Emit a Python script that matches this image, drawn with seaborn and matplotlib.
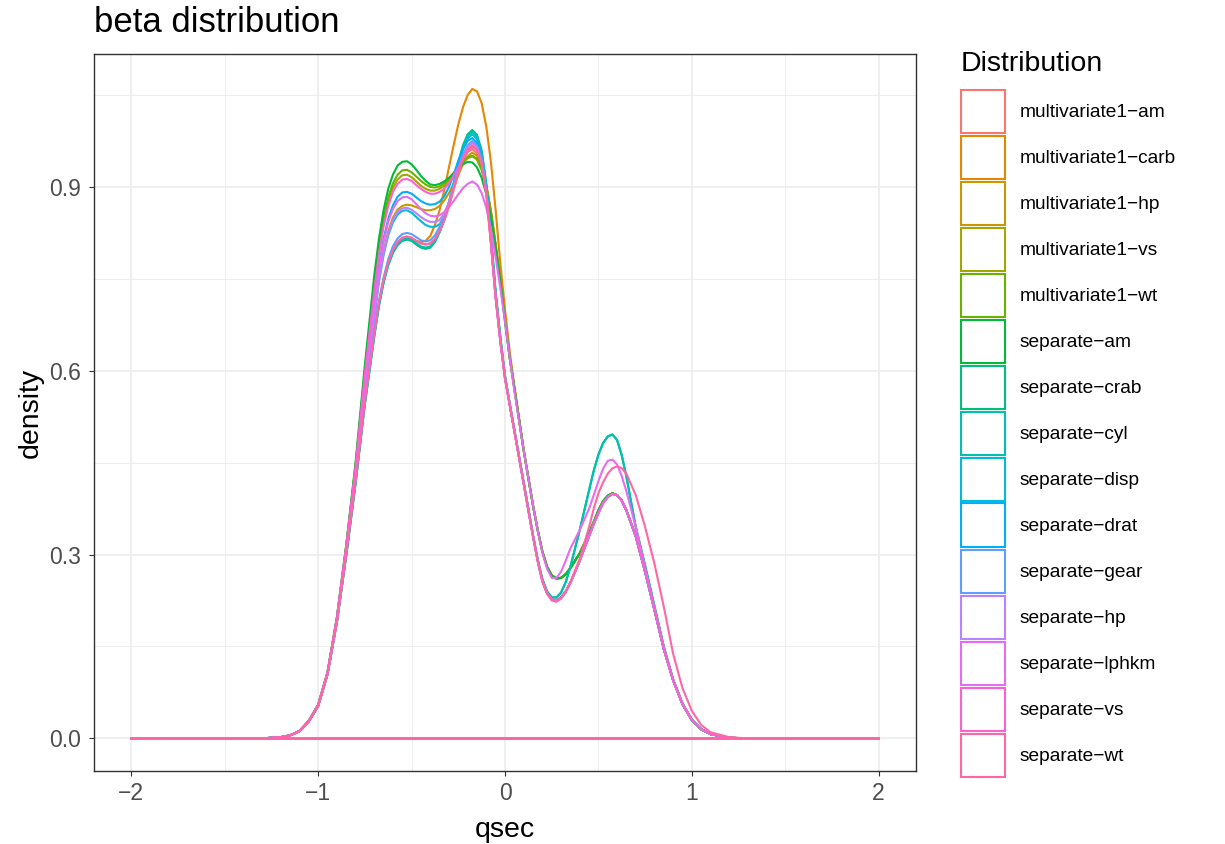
import numpy as np
import pandas as pd
import matplotlib
matplotlib.use("Agg")
import matplotlib.pyplot as plt
from matplotlib.patches import Patch
import seaborn as sns

plt.rcParams['font.family'] = ['Liberation Sans', 'DejaVu Sans']

# ---- data (density value at each qsec position) ----
x_grid = [-2.0, -1.3, -1.2, -1.15, -1.1, -1.05, -1.0, -0.95, -0.9, -0.85, -0.8, -0.75, -0.7,
          -0.675, -0.65, -0.625, -0.6, -0.575, -0.55, -0.525, -0.5, -0.475, -0.45, -0.425, -0.4, -0.375, -0.35,
          -0.325, -0.3, -0.275, -0.25, -0.225, -0.2, -0.175, -0.15, -0.125, -0.1, -0.075, -0.05, -0.025, 0.0,
          0.025, 0.05, 0.1, 0.15, 0.175, 0.2, 0.225, 0.25, 0.275, 0.3, 0.325, 0.35,
          0.4, 0.45, 0.475, 0.5, 0.525, 0.55, 0.575, 0.6, 0.625, 0.65, 0.7,
          0.75, 0.8, 0.85, 0.9, 0.95, 1.0, 1.05, 1.1, 1.2, 1.3, 2.0]

names = ["multivariate1\u2212am", "multivariate1\u2212carb", "multivariate1\u2212hp",
         "multivariate1\u2212vs", "multivariate1\u2212wt", "separate\u2212am", "separate\u2212crab",
         "separate\u2212cyl", "separate\u2212disp", "separate\u2212drat", "separate\u2212gear",
         "separate\u2212hp", "separate\u2212lphkm", "separate\u2212vs", "separate\u2212wt"]

colors = ["#F8766D", "#E58700", "#C99800", "#A3A500", "#6BB100", "#00BA38", "#00BF7D",
          "#00C0AF", "#00BCD8", "#00B0F6", "#619CFF", "#B983FF", "#E76BF3", "#FD61D1", "#FF67A4"]

mv1_am = [0, 0, 0.002, 0.005, 0.012, 0.028, 0.053, 0.105, 0.19, 0.30, 0.42, 0.55, 0.66,
          0.71, 0.748, 0.777, 0.797, 0.81, 0.817, 0.819, 0.817, 0.812, 0.808, 0.806, 0.808, 0.815, 0.828,
          0.845, 0.868, 0.895, 0.92, 0.942, 0.957, 0.962, 0.955, 0.935, 0.903, 0.86, 0.805, 0.748, 0.685,
          0.622, 0.572, 0.47, 0.38, 0.34, 0.305, 0.28, 0.266, 0.261, 0.262, 0.268, 0.278,
          0.302, 0.335, 0.353, 0.372, 0.387, 0.396, 0.40, 0.397, 0.388, 0.372, 0.33,
          0.272, 0.21, 0.146, 0.095, 0.056, 0.03, 0.015, 0.007, 0.001, 0, 0]
mv1_carb = [0, 0, 0.002, 0.005, 0.012, 0.028, 0.053, 0.105, 0.19, 0.30, 0.42, 0.55, 0.66,
            0.71, 0.748, 0.776, 0.795, 0.807, 0.814, 0.816, 0.815, 0.812, 0.81, 0.812, 0.82, 0.838, 0.862,
            0.895, 0.932, 0.968, 1.002, 1.03, 1.05, 1.06, 1.056, 1.037, 0.998, 0.94, 0.862, 0.775, 0.70,
            0.632, 0.575, 0.472, 0.38, 0.34, 0.305, 0.28, 0.266, 0.261, 0.262, 0.268, 0.278,
            0.302, 0.335, 0.353, 0.372, 0.387, 0.396, 0.40, 0.397, 0.388, 0.372, 0.33,
            0.272, 0.21, 0.146, 0.095, 0.056, 0.03, 0.015, 0.007, 0.001, 0, 0]
mv1_hp = [0, 0, 0.002, 0.005, 0.012, 0.028, 0.054, 0.106, 0.193, 0.307, 0.432, 0.572, 0.69,
          0.75, 0.795, 0.828, 0.85, 0.863, 0.869, 0.871, 0.87, 0.867, 0.864, 0.862, 0.862, 0.864, 0.869,
          0.878, 0.89, 0.905, 0.92, 0.937, 0.95, 0.956, 0.951, 0.932, 0.902, 0.86, 0.805, 0.748, 0.685,
          0.622, 0.572, 0.47, 0.38, 0.34, 0.305, 0.28, 0.266, 0.261, 0.262, 0.268, 0.278,
          0.302, 0.335, 0.353, 0.372, 0.387, 0.396, 0.40, 0.397, 0.388, 0.372, 0.33,
          0.272, 0.21, 0.146, 0.095, 0.056, 0.03, 0.015, 0.007, 0.001, 0, 0]
mv1_vs = [0, 0, 0.002, 0.005, 0.012, 0.029, 0.055, 0.108, 0.196, 0.313, 0.443, 0.597, 0.735,
          0.795, 0.842, 0.876, 0.899, 0.912, 0.919, 0.92, 0.916, 0.909, 0.902, 0.897, 0.894, 0.894, 0.897,
          0.902, 0.91, 0.92, 0.93, 0.94, 0.947, 0.95, 0.945, 0.928, 0.90, 0.858, 0.804, 0.748, 0.685,
          0.622, 0.572, 0.47, 0.38, 0.34, 0.305, 0.28, 0.266, 0.261, 0.262, 0.268, 0.278,
          0.302, 0.335, 0.353, 0.372, 0.387, 0.396, 0.40, 0.397, 0.388, 0.372, 0.33,
          0.272, 0.21, 0.146, 0.095, 0.056, 0.03, 0.015, 0.007, 0.001, 0, 0]
mv1_wt = [0, 0, 0.002, 0.005, 0.012, 0.029, 0.055, 0.108, 0.197, 0.315, 0.446, 0.60, 0.74,
          0.80, 0.848, 0.883, 0.906, 0.92, 0.927, 0.928, 0.924, 0.917, 0.91, 0.904, 0.90, 0.899, 0.901,
          0.906, 0.914, 0.923, 0.933, 0.942, 0.948, 0.951, 0.946, 0.929, 0.90, 0.858, 0.804, 0.748, 0.685,
          0.622, 0.572, 0.47, 0.38, 0.34, 0.305, 0.28, 0.266, 0.261, 0.262, 0.268, 0.278,
          0.302, 0.335, 0.353, 0.372, 0.387, 0.396, 0.40, 0.397, 0.388, 0.372, 0.33,
          0.272, 0.21, 0.146, 0.095, 0.056, 0.03, 0.015, 0.007, 0.001, 0, 0]
sep_am = [0, 0, 0.002, 0.005, 0.012, 0.029, 0.055, 0.108, 0.197, 0.315, 0.45, 0.61, 0.755,
          0.815, 0.862, 0.897, 0.92, 0.935, 0.941, 0.942, 0.937, 0.928, 0.918, 0.91, 0.904, 0.903, 0.905,
          0.909, 0.915, 0.922, 0.93, 0.937, 0.941, 0.94, 0.932, 0.915, 0.888, 0.85, 0.80, 0.745, 0.68,
          0.622, 0.572, 0.47, 0.38, 0.34, 0.305, 0.28, 0.266, 0.261, 0.262, 0.268, 0.278,
          0.302, 0.335, 0.353, 0.372, 0.387, 0.396, 0.40, 0.397, 0.388, 0.372, 0.33,
          0.272, 0.21, 0.146, 0.095, 0.056, 0.03, 0.015, 0.007, 0.001, 0, 0]
sep_crab = [0, 0, 0.002, 0.005, 0.012, 0.028, 0.053, 0.105, 0.19, 0.298, 0.415, 0.545, 0.655,
            0.705, 0.743, 0.772, 0.792, 0.805, 0.812, 0.814, 0.812, 0.806, 0.801, 0.799, 0.801, 0.81, 0.826,
            0.847, 0.875, 0.907, 0.94, 0.968, 0.986, 0.993, 0.985, 0.96, 0.905, 0.82, 0.728, 0.655, 0.592,
            0.547, 0.504, 0.418, 0.332, 0.292, 0.26, 0.24, 0.23, 0.23, 0.238, 0.255, 0.28,
            0.34, 0.405, 0.437, 0.463, 0.482, 0.493, 0.496, 0.487, 0.462, 0.427, 0.345,
            0.282, 0.216, 0.15, 0.096, 0.057, 0.031, 0.015, 0.007, 0.001, 0, 0]
sep_cyl = [0, 0, 0.002, 0.005, 0.012, 0.028, 0.053, 0.105, 0.19, 0.299, 0.417, 0.547, 0.657,
           0.707, 0.745, 0.774, 0.794, 0.807, 0.814, 0.816, 0.814, 0.808, 0.803, 0.801, 0.803, 0.812, 0.827,
           0.846, 0.873, 0.904, 0.936, 0.964, 0.983, 0.99, 0.982, 0.957, 0.903, 0.818, 0.727, 0.654, 0.591,
           0.547, 0.504, 0.418, 0.332, 0.292, 0.26, 0.24, 0.23, 0.23, 0.238, 0.255, 0.28,
           0.34, 0.405, 0.437, 0.463, 0.482, 0.493, 0.496, 0.487, 0.462, 0.427, 0.345,
           0.282, 0.216, 0.15, 0.096, 0.057, 0.031, 0.015, 0.007, 0.001, 0, 0]
sep_disp = [0, 0, 0.002, 0.005, 0.012, 0.028, 0.054, 0.106, 0.193, 0.306, 0.43, 0.568, 0.685,
            0.745, 0.789, 0.821, 0.842, 0.855, 0.861, 0.862, 0.858, 0.851, 0.844, 0.838, 0.835, 0.835, 0.839,
            0.852, 0.874, 0.903, 0.935, 0.961, 0.979, 0.986, 0.978, 0.953, 0.90, 0.815, 0.725, 0.652, 0.59,
            0.545, 0.502, 0.416, 0.33, 0.29, 0.257, 0.237, 0.227, 0.225, 0.23, 0.24, 0.254,
            0.29, 0.33, 0.35, 0.368, 0.384, 0.394, 0.399, 0.397, 0.388, 0.372, 0.33,
            0.272, 0.21, 0.146, 0.095, 0.056, 0.03, 0.015, 0.007, 0.001, 0, 0]
sep_drat = [0, 0, 0.002, 0.005, 0.012, 0.028, 0.054, 0.107, 0.195, 0.31, 0.437, 0.583, 0.71,
            0.77, 0.815, 0.848, 0.87, 0.884, 0.891, 0.892, 0.889, 0.883, 0.877, 0.873, 0.871, 0.872, 0.876,
            0.885, 0.90, 0.92, 0.943, 0.962, 0.975, 0.98, 0.972, 0.948, 0.897, 0.812, 0.722, 0.65, 0.589,
            0.545, 0.502, 0.416, 0.33, 0.29, 0.257, 0.237, 0.227, 0.225, 0.23, 0.24, 0.254,
            0.29, 0.33, 0.35, 0.368, 0.384, 0.394, 0.399, 0.397, 0.388, 0.372, 0.33,
            0.272, 0.21, 0.146, 0.095, 0.056, 0.03, 0.015, 0.007, 0.001, 0, 0]
sep_gear = [0, 0, 0.002, 0.005, 0.012, 0.028, 0.053, 0.105, 0.19, 0.30, 0.42, 0.55, 0.662,
            0.713, 0.752, 0.782, 0.803, 0.816, 0.823, 0.825, 0.823, 0.818, 0.813, 0.811, 0.813, 0.821, 0.835,
            0.853, 0.876, 0.903, 0.93, 0.952, 0.968, 0.975, 0.968, 0.945, 0.893, 0.81, 0.72, 0.648, 0.588,
            0.545, 0.502, 0.416, 0.33, 0.29, 0.257, 0.237, 0.227, 0.225, 0.23, 0.24, 0.254,
            0.29, 0.33, 0.35, 0.368, 0.384, 0.394, 0.399, 0.397, 0.388, 0.372, 0.33,
            0.272, 0.21, 0.146, 0.095, 0.056, 0.03, 0.015, 0.007, 0.001, 0, 0]
sep_hp = [0, 0, 0.002, 0.005, 0.012, 0.028, 0.054, 0.106, 0.193, 0.307, 0.431, 0.57, 0.688,
          0.748, 0.792, 0.824, 0.846, 0.859, 0.865, 0.866, 0.863, 0.857, 0.851, 0.846, 0.843, 0.843, 0.846,
          0.857, 0.875, 0.90, 0.926, 0.949, 0.965, 0.972, 0.965, 0.942, 0.892, 0.809, 0.72, 0.648, 0.588,
          0.545, 0.502, 0.416, 0.33, 0.29, 0.257, 0.237, 0.227, 0.225, 0.23, 0.24, 0.254,
          0.29, 0.33, 0.35, 0.368, 0.384, 0.394, 0.399, 0.397, 0.388, 0.372, 0.33,
          0.272, 0.21, 0.146, 0.095, 0.056, 0.03, 0.015, 0.007, 0.001, 0, 0]
sep_lphkm = [0, 0, 0.002, 0.005, 0.012, 0.028, 0.054, 0.107, 0.195, 0.31, 0.435, 0.58, 0.705,
             0.765, 0.81, 0.843, 0.864, 0.877, 0.883, 0.884, 0.88, 0.872, 0.864, 0.857, 0.853, 0.852, 0.854,
             0.859, 0.867, 0.877, 0.888, 0.898, 0.905, 0.909, 0.904, 0.89, 0.866, 0.83, 0.785, 0.735, 0.68,
             0.622, 0.567, 0.47, 0.38, 0.34, 0.303, 0.277, 0.262, 0.262, 0.272, 0.29, 0.31,
             0.34, 0.375, 0.397, 0.42, 0.44, 0.453, 0.455, 0.447, 0.428, 0.403, 0.345,
             0.278, 0.213, 0.148, 0.095, 0.056, 0.03, 0.015, 0.007, 0.001, 0, 0]
sep_vs = [0, 0, 0.002, 0.005, 0.012, 0.029, 0.055, 0.108, 0.196, 0.313, 0.443, 0.595, 0.73,
          0.79, 0.835, 0.869, 0.892, 0.905, 0.912, 0.913, 0.91, 0.903, 0.897, 0.892, 0.889, 0.889, 0.892,
          0.897, 0.906, 0.918, 0.932, 0.946, 0.959, 0.966, 0.96, 0.938, 0.889, 0.807, 0.719, 0.648, 0.588,
          0.545, 0.502, 0.416, 0.33, 0.29, 0.257, 0.237, 0.227, 0.225, 0.23, 0.24, 0.254,
          0.29, 0.33, 0.35, 0.368, 0.384, 0.394, 0.399, 0.397, 0.388, 0.372, 0.33,
          0.272, 0.21, 0.146, 0.095, 0.056, 0.03, 0.015, 0.007, 0.001, 0, 0]
sep_wt = [0, 0, 0.002, 0.005, 0.012, 0.028, 0.053, 0.105, 0.19, 0.30, 0.42, 0.55, 0.66,
          0.71, 0.748, 0.777, 0.797, 0.81, 0.817, 0.819, 0.817, 0.812, 0.808, 0.806, 0.808, 0.815, 0.828,
          0.846, 0.869, 0.897, 0.923, 0.945, 0.961, 0.968, 0.961, 0.94, 0.888, 0.806, 0.72, 0.649, 0.588,
          0.545, 0.502, 0.416, 0.33, 0.29, 0.256, 0.236, 0.225, 0.223, 0.228, 0.238, 0.255,
          0.293, 0.345, 0.375, 0.40, 0.418, 0.432, 0.441, 0.444, 0.441, 0.432, 0.397,
          0.345, 0.285, 0.215, 0.138, 0.082, 0.045, 0.022, 0.01, 0.002, 0, 0]

series = [mv1_am, mv1_carb, mv1_hp, mv1_vs, mv1_wt, sep_am, sep_crab, sep_cyl, sep_disp,
          sep_drat, sep_gear, sep_hp, sep_lphkm, sep_vs, sep_wt]
for s in series:
    assert len(s) == len(x_grid)

x_ticks = [-2, -1, 0, 1, 2]
x_tick_labels = ["\u22122", "\u22121", "0", "1", "2"]
y_ticks = [0.0, 0.3, 0.6, 0.9]
y_tick_labels = ["0.0", "0.3", "0.6", "0.9"]

# ---- long-form table; each outline closed along the baseline like a density polygon ----
rows = []
for name, vals in zip(names, series):
    xs = list(x_grid) + [x_grid[0]]
    ys = list(vals) + [0.0]
    for i, (xv, yv) in enumerate(zip(xs, ys)):
        rows.append((name, i, xv, yv))
df = pd.DataFrame(rows, columns=["Distribution", "order", "qsec", "density"])

fig = plt.figure(figsize=(12.25, 8.44), dpi=100)
ax = fig.add_axes([94 / 1225, 1 - 771 / 844, (916 - 94) / 1225, (771 - 54) / 844])

sns.lineplot(data=df, x="qsec", y="density", hue="Distribution", hue_order=names,
             palette=colors, sort=False, estimator=None, units="Distribution",
             linewidth=1.5, legend=False, ax=ax, zorder=3)
for ln in ax.lines:
    ln.set_solid_joinstyle("round")

ax.set_xlim(-2.2, 2.2)
ax.set_ylim(-0.0532, 1.117)
ax.set_xticks(x_ticks)
ax.set_xticklabels(x_tick_labels)
ax.set_yticks(y_ticks)
ax.set_yticklabels(y_tick_labels)
ax.set_xticks([-1.5, -0.5, 0.5, 1.5], minor=True)
ax.set_yticks([0.15, 0.45, 0.75, 1.05], minor=True)
ax.grid(True, which="major", color="#EBEBEB", linewidth=1.1, zorder=0)
ax.grid(True, which="minor", color="#EBEBEB", linewidth=0.6, zorder=0)
ax.set_axisbelow(True)
ax.tick_params(axis="both", which="major", length=3.6, width=0.8, color="#333333",
               labelcolor="#4D4D4D", labelsize=16.5)
ax.tick_params(axis="y", which="major", pad=5.5)
ax.tick_params(axis="x", which="major", pad=4)
ax.tick_params(axis="both", which="minor", length=0)
for s in ax.spines.values():
    s.set_color("#333333")
    s.set_linewidth(1.0)
ax.set_xlabel("qsec", fontsize=20.5, color="black", labelpad=9)
ax.set_ylabel("density", fontsize=20.5, color="black", labelpad=4)
fig.text(94 / 1225, 1 - 22 / 844, "beta distribution", fontsize=25, color="black",
         ha="left", va="center")

handles = [Patch(facecolor="white", edgecolor=c, linewidth=1.5) for c in colors]
leg = fig.legend(handles, names, loc="upper left", bbox_to_anchor=(961 / 1225, 1 - 51 / 844),
                 frameon=False, fontsize=13.8, title="Distribution", title_fontsize=20.5,
                 handlelength=2.3, handleheight=3.1, labelspacing=0.14, handletextpad=0.75,
                 borderpad=0, borderaxespad=0, alignment="left")
leg._legend_box.sep = 9.0

fig.savefig("out.png", dpi=100, facecolor="white")
